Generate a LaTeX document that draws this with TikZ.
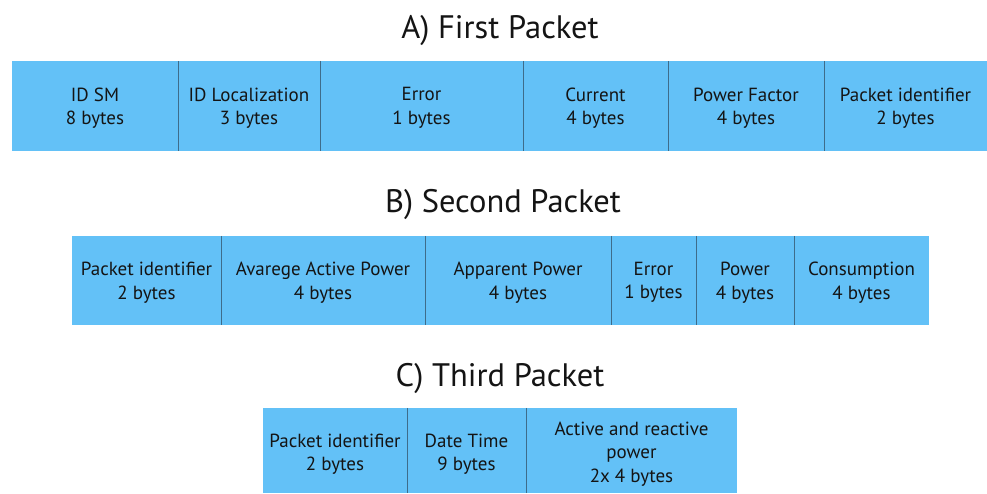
\documentclass[tikz,border=0pt]{standalone}
\usepackage{fontspec}
\setmainfont{PT Sans}
\definecolor{cellfill}{RGB}{99,193,247}
\definecolor{divline}{RGB}{62,108,138}
\definecolor{txt}{RGB}{20,20,20}
\begin{document}
\begin{tikzpicture}[x=1pt,y=-1pt,
  cell/.style={fill=cellfill,inner sep=0pt},
  celltext/.style={inner sep=0pt,align=center,text=txt,
    font=\fontsize{19}{23.5}\selectfont},
  title/.style={text=txt,font=\fontsize{32.5}{36}\selectfont,inner sep=0pt},
  divider/.style={draw=divline,line width=1pt}]
\useasboundingbox (0,0) rectangle (987,493);
% ---- Row A
\node[title] (ta) at (500,30.5) {A) First Packet};
\foreach \n/\l/\r/\t in {a1/12/178/{ID SM\\8 bytes},
  a2/178/320/{ID Localization\\3 bytes},
  a3/320/523/{Error\\1 bytes},
  a4/523/668/{Current\\4 bytes},
  a5/668/824/{Power Factor\\4 bytes},
  a6/824/987/{Packet identifier\\2 bytes}}{
  \node[cell,minimum width={\r-\l},minimum height=90] (\n) at ({(\l+\r)/2},106) {};
  \node[celltext] (\n t) at ([yshift=-2pt]\n.center) {\t};
}
\foreach \p in {a1,a2,a3,a4,a5}{
  \draw[divider] (\p.north east) -- (\p.south east);
}
% ---- Row B
\node[title] (tb) at (503,204.5) {B) Second Packet};
\foreach \n/\l/\r/\t in {b1/72/221/{Packet identifier\\2 bytes},
  b2/221/425/{Avarege Active Power\\4 bytes},
  b3/425/611/{Apparent Power\\4 bytes},
  b4/611/696/{Error\\1 bytes},
  b5/696/794/{Power\\4 bytes},
  b6/794/929/{Consumption\\4 bytes}}{
  \node[cell,minimum width={\r-\l},minimum height=89] (\n) at ({(\l+\r)/2},280.5) {};
  \node[celltext] (\n t) at ([yshift=-2pt]\n.center) {\t};
}
\foreach \p in {b1,b2,b3,b4,b5}{
  \draw[divider] (\p.north east) -- (\p.south east);
}
% ---- Row C
\node[title] (tc) at (500,378.5) {C) Third Packet};
\foreach \n/\l/\r/\t in {c1/263/407/{Packet identifier\\2 bytes},
  c2/407/526/{Date Time\\9 bytes},
  c3/526/737/{Active and reactive\\power\\2x 4 bytes}}{
  \node[cell,minimum width={\r-\l},minimum height=85] (\n) at ({(\l+\r)/2},450.5) {};
  \node[celltext] (\n t) at ([yshift=-3.5pt]\n.center) {\t};
}
\foreach \p in {c1,c2}{
  \draw[divider] (\p.north east) -- (\p.south east);
}
\end{tikzpicture}
\end{document}
